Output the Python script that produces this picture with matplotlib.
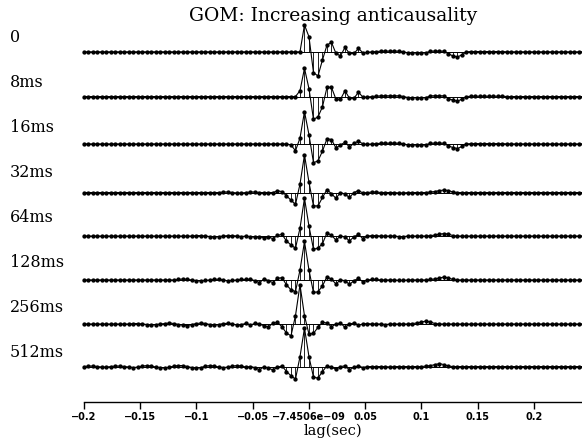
import numpy as np
import matplotlib
matplotlib.use('Agg')
import matplotlib.pyplot as plt

# trace labels (amount of anticausality)
trace_labels = ['0', '8ms', '16ms', '32ms', '64ms', '128ms', '256ms', '512ms']

# lag axis, 4 ms sampling
dt = 0.004
lag0 = -0.2
nlag = 112

tick_values = [-0.2, -0.15, -0.1, -0.05, 0.0, 0.05, 0.1, 0.15, 0.2]
tick_labels = ['\u22120.2', '\u22120.15', '\u22120.1', '\u22120.05', '\u22127.4506e\u221209',
               '0.05', '0.1', '0.15', '0.2']

# trace amplitudes, one list per trace
tr_0 = [0] * 47 + [0, 0, 26.7, 15, -20.6, -24, -8, 6.7, 9.4, -1.6, -4, 4.4, -1.6, -1.6, 3.4, -1,
                   -0.5, 0, 0.3, 0.7, 0.7, 0.7, 0.7, 0.7, 0, -1, -1, -1, -1, -1, 0.7, 0.7, 0.7, 0.7,
                   -2, -4, -5, -3, 0, 0.3, 0.3, 0.3, 0.3, 0.3, 0.3, 0.3, 0.3, 0, 0, 0, 0, 0, 0, 0, 0,
                   0, 0, 0, 0, 0, 0, 0, 0, 0, 0, 0]
tr_8 = [0] * 47 + [0, 5.7, 27.7, 7.7, -22.3, -20, -10, 9, 9, -2.7, -2.7, 5.7, -1.7, -1.7, 4.3, -0.7,
                   -0.5, 0, 0.3, 0.7, 0.7, 0.7, 0.7, 0.7, 0, -1, -1, -1, -1, -1, 0.7, 0.7, 0.7, 0.7,
                   -2, -3.5, -4.5, -2.5, 0, 0.3, 0.3, 0.3, 0.3, 0.3, 0.3, 0.3, 0.3, 0, 0, 0, 0, 0, 0, 0,
                   0, 0, 0, 0, 0, 0, 0, 0, 0, 0, 0, 0]
tr_16 = [0] * 44 + [0, 0, -1, -6.7, 5.7, 31.7, 9, -18.3, -16.7, -7, 5, 4.3, -4, -1, 1.7, -3, 0.7,
                    2.7, 0, -0.5, 0, 0.3, 0.7, 0.7, 0.7, 0.7, 0.7, 0, -1, -1, -1, -1, -1, 0.7, 0.7,
                    0.7, 0.7, -2, -3.5, -4.5, -2.5, 0, 0.3, 0.3, 0.3, 0.3, 0.3, 0.3, 0.3, 0.3, 0, 0, 0,
                    0, 0, 0, 0, 0, 0, 0, 0, 0, 0, 0, 0, 0, 0, 0, 0]
tr_32 = [0] * 30 + [0, 0.5, 0.5, 0, -0.5, -0.5, 0, 0.5, 0.5, 0, 0, 0, 0, 1.7, 1, -3.3, -7.7, -12,
                    8.5, 38, 10.3, -13.5, -13.5, -5, 3, -1.3, -5.8, 0, -1.5, -5, 0, 2, -0.5, 0, 0.5,
                    0.5, 0, 0, 0, 0, -0.5, -0.5, 0, 0, 0, 0, 0, 0.5, 1, 2, 2.5, 2, 0.5, 0, 0, 0, 0, 0,
                    0, 0, 0, 0, 0, 0, 0, 0, 0, 0, 0, 0, 0, 0, 0, 0, 0, 0, 0, 0, 0, 0, 0, 0]
tr_64 = [0] * 24 + [0, 0.5, 0.5, 0, -0.5, -1, -0.5, 0, 0.5, 0.5, 0, -0.5, 0, -0.7, -1, -0.7,
                    -1.7, -0.7, -2.7, 0.7, 1.7, -5, -9, -12.3, 8, 38.4, 10, -13.3, -12.3, -7.7, 3.3,
                    0.7, -4, 0, -0.7, -5, -0.7, 1.7, -2.7, 0, 0.5, 0.5, 0, 0, 0, 0, -0.5, -0.5, 0, 0,
                    0, 0, 0, 0.5, 1, 2, 2.5, 2, 0.5, 0, 0, 0, 0, 0, 0, 0, 0, 0, 0, 0, 0, 0, 0, 0, 0,
                    0, 0, 0, 0, 0, 0, 0, 0, 0, 0, 0]
tr_128 = [0] * 20 + [0, 0.5, 1, 0.5, 0, -0.7, -1, -0.5, 0, 0.7, 0.7, 0, -1, -0.5, 0, 0.5, 0.5,
                     0.7, -0.7, -2.7, 1, -0.7, -2.7, 1.7, 2.3, -5, -10, -11.7, 10, 39, 10, -12.7,
                     -12, -6, 3.3, 0.7, -4, 0, -0.7, -4.5, -0.7, 1.7, -2, 0, 0.5, 0.5, 0, 0, 0, 0,
                     -0.5, -0.5, 0, 0, 0, 0, 0, 0.5, 1, 2, 3, 2, 0.5, 0, 0, 0, 0, 0, 0, 0, 0, 0, 0,
                     0, 0, 0, 0, 0, 0, 0, 0, 0, 0, 0, 0, 0, 0, 0, 0, 0, 0]
tr_256 = [0] * 10 + [0, 0.5, 0.5, 0, -0.5, -1, -0.5, 0, 0.5, 1, 0.5, -0.5, -1, -1.5, -0.5, 0.5,
                     1, 0.5, -0.5, -1, -0.5, 0.5, 0.7, 0, -1, -0.5, 0.7, -1, 0.7, 0, -1.7, -2.7,
                     0.7, 1.7, -2.7, -9, -11.7, 8.3, 39, 8.3, -10, -9.3, -3.3, 1.7, 1, -2.7, 0, 1,
                     -3.3, 0, 1, -1, 0, 0.5, 0, 0, 0, -0.5, 0, 0, 0, 0, 0, 0.5, 1, 2, 3, 2, 0.5, 0,
                     0, 0, 0, 0, 0, 0, 0, 0, 0, 0, 0, 0, 0, 0, 0, 0, 0, 0, 0, 0, 0, 0, 0, 0, 0, 0,
                     0]
tr_512 = [0, 0.5, 0.5, 0, -0.5, -0.5, 0, 0.5, 0.5, 0, -0.5, -1, -0.5, 0.5, 1, 0.5, -0.5, -1,
          -1.5, -0.5, 0.5, 1, 1, 0, -1, -1.5, -1, 0.5, 1, 0.5, -0.5, -1, -0.5, 0.5, 1, 0.5, -0.5,
          0, -1, -3.3, 0, -1.7, -3.3, -0.7, 0.7, -5, -9.3, -12.7, 10, 39, 10, -10.7, -11.7, -5,
          0.7, -0.7, -2.7, 0, 0.7, -3.3, -0.7, 0.7, -1, 0, 0, 0, 0, 0, -0.5, 0, 0, 0, 0, 0, 0, 0,
          0.5, 1, 2, 3, 2, 0.5, 0, 0, 0, 0, 0, 0, 0, 0, 0, 0, 0, 0, 0, 0, 0, 0, 0, 0, 0, 0, 0, 0,
          0, 0, 0, 0, 0, 0, 0, 0]

traces = [tr_0, tr_8, tr_16, tr_32, tr_64, tr_128, tr_256, tr_512]

W, H = 582, 443
fig = plt.figure(figsize=(W / 100, H / 100), dpi=100)
lags = lag0 + dt * np.arange(nlag)
x_left, x_right = lag0, 0.2427
ax_l = 84 / W
ax_w = (W - 84) / W

# every trace lives in its own frame, scaled from its min to its max
frame_top = 25.0
frame_step = 43.3
frame_h = 51.0
label_top = 37.5
label_step = 45.0
for k, tr in enumerate(traces):
    amp = np.zeros(nlag)
    n = min(len(tr), nlag)
    amp[:n] = tr[:n]
    top = frame_top + frame_step * k
    tax = fig.add_axes([ax_l, 1 - (top + frame_h) / H, ax_w, frame_h / H])
    tax.set_xlim(x_left, x_right)
    tax.set_ylim(amp.min(), amp.max())
    tax.axis('off')
    tax.axhline(0, color='black', lw=0.7, clip_on=False)
    tax.vlines(lags, 0, amp, color='black', lw=0.6, clip_on=False)
    tax.plot(lags, amp, color='black', lw=0.8, marker='o', ms=2.1, mec='black', mfc='black',
             clip_on=False)
    fig.text(10 / W, 1 - (label_top + label_step * k) / H, trace_labels[k], family='DejaVu Serif',
             fontsize=11.5, va='center', ha='left')

ax = fig.add_axes([ax_l, (H - 402) / H, ax_w, 0.01])
ax.set_xlim(x_left, x_right)
for s in ['top', 'left', 'right']:
    ax.spines[s].set_visible(False)
ax.patch.set_visible(False)
ax.spines['bottom'].set_linewidth(1.0)
ax.set_yticks([])
ax.set_xticks(tick_values)
ax.set_xticklabels(tick_labels, fontsize=7, fontweight='bold', family='DejaVu Sans')
ax.tick_params(axis='x', direction='out', length=5, width=1, pad=2)
ax.set_xlabel('lag(sec)', family='DejaVu Serif', fontsize=10.5, labelpad=1)

fig.text(333 / W, 1 - 16 / H, 'GOM: Increasing anticausality', family='DejaVu Serif',
         fontsize=13.5, ha='center', va='center')

fig.savefig('out.png', dpi=100)
